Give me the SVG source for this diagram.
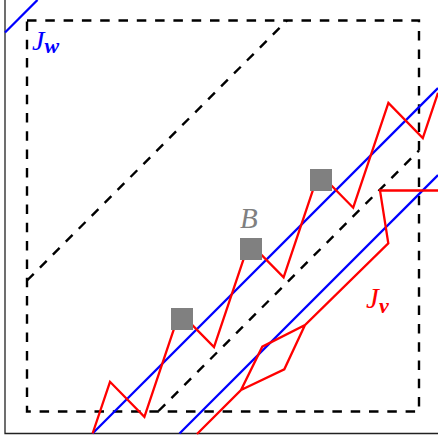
<svg xmlns="http://www.w3.org/2000/svg" width="438" height="440" viewBox="0 0 438 440">
<style>
.ax{stroke:#222;stroke-width:1.3;fill:none}
.dash{stroke:#000;stroke-width:2.4;fill:none;stroke-dasharray:9.5 8.8}
.blue{stroke:#0000ff;stroke-width:2.3;fill:none}
.red{stroke:#ff0000;stroke-width:2.3;fill:none;stroke-linejoin:miter}
.sq{fill:#808080}
.lbl{font-family:"Liberation Serif",serif;font-style:italic}
</style>
<rect width="438" height="440" fill="#fff"/>
<g id="axes">
<path class="ax" d="M5,0 V433.5 H438"/>
</g>
<g id="connectors">
<rect class="dash" x="27" y="20.5" width="392" height="391"/>
<path class="dash" d="M27,280.5 L287,20.5"/>
<path class="dash" d="M158.5,411 L419,150.5"/>
<path class="blue" d="M5,32.5 L37.5,0"/>
<path class="blue" d="M92.5,433.5 L438,88"/>
<path class="blue" d="M179.5,433.5 L438,175"/>
<polyline class="red" points="92.6,433.5 110,381.8 144.4,416.8 179.6,312.1 214,347.1 249.2,242.4 283.6,277.4 318.8,172.7 353.2,207.7 388.4,103 422.8,138 438,92.8"/>
<path class="red" d="M197,434 L241,390 L262.3,346.7 L305,325 L388.3,243.3 L380,190.5 L438,190.5 M241,390 L284.3,369.3 L305,325"/>
</g>
<g id="squares">
<rect class="sq" x="171" y="308" width="22" height="22"/>
<rect class="sq" x="240" y="238" width="22" height="22"/>
<rect class="sq" x="310" y="169" width="22" height="22"/>
</g>
<g id="label-Jw">
<text class="lbl" x="32" y="50" font-size="28" fill="#0000ff">J<tspan font-weight="bold" font-size="22" dy="3">w</tspan></text>
</g>
<g id="label-B">
<text class="lbl" x="240" y="228" font-size="29" fill="#808080">B</text>
</g>
<g id="label-Jv">
<text class="lbl" x="366" y="308" font-size="29" fill="#ff0000">J<tspan font-weight="bold" font-size="22" dy="5">v</tspan></text>
</g>
</svg>
